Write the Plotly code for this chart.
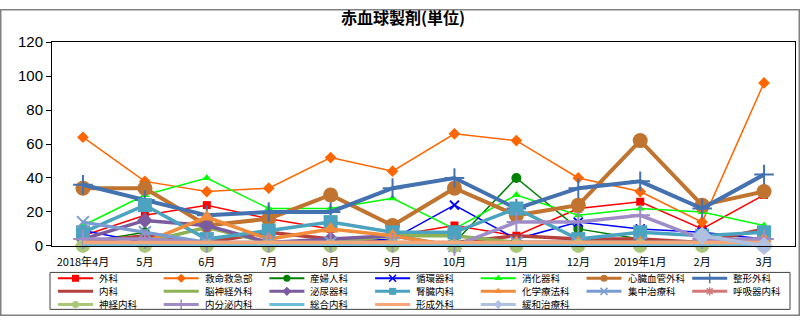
import plotly.graph_objects as go

months = ["2018年4月", "5月", "6月", "7月", "8月", "9月", "10月", "11月", "12月", "2019年1月", "2月", "3月"]

names = ["外科", "救命救急部", "産婦人科", "循環器科", "消化器科", "心臓血管外科", "整形外科",
         "内科", "脳神経外科", "泌尿器科", "腎臓内科", "化学療法科", "集中治療科", "呼吸器内科",
         "神経内科", "内分泌内科", "総合内科", "形成外科", "緩和治療科"]

geka       = [6, 18, 24, 16, 10, 6, 12, 6, 22, 26, 10, 30]
kyumei     = [64, 38, 32, 34, 52, 44, 66, 62, 40, 32, 14, 96]
sanfu      = [2, 8, 2, 2, 2, 2, 2, 40, 10, 4, 2, 2]
junkan     = [9, 2, 2, 2, 2, 4, 24, 4, 14, 10, 8, 4]
shoka      = [12, 30, 40, 22, 22, 28, 10, 30, 18, 22, 20, 12]
shinzo     = [34, 34, 12, 16, 30, 12, 34, 18, 24, 62, 24, 32]
seikei     = [36, 27, 18, 20, 20, 34, 40, 22, 34, 38, 22, 42]
naika      = [2, 6, 2, 8, 4, 2, 2, 6, 4, 4, 2, 10]
noshinkei  = [0, 2, 11, 2, 2, 6, 6, 2, 2, 2, 2, 2]
hinyoki    = [4, 15, 12, 2, 4, 6, 0, 2, 2, 2, 2, 4]
jinzo      = [8, 24, 4, 9, 14, 8, 8, 22, 4, 8, 6, 8]
kagaku     = [2, 2, 17, 4, 10, 6, 0, 2, 2, 2, 2, 4]
shuchu     = [14, 8, 2, 2, 2, 2, 0, 2, 2, 2, 2, 2]
kokyuki    = [0, 0, 0, 0, 0, 0, 0, 0, 0, 0, 0, 0]
shinkei    = [0, 0, 0, 0, 0, 0, 0, 0, 0, 0, 0, 0]
naibunpi   = [4, 4, 2, 2, 2, 2, 0, 14, 14, 18, 4, 4]
sogo       = [1, 1, 1, 1, 1, 1, 1, 1, 1, 1, 1, 1]
keisei     = [2, 2, 2, 2, 2, 2, 2, 2, 2, 2, 2, 2]
kanwa      = [None, None, None, None, None, None, None, None, None, None, 6, 0]

series = [geka, kyumei, sanfu, junkan, shoka, shinzo, seikei, naika, noshinkei, hinyoki,
          jinzo, kagaku, shuchu, kokyuki, shinkei, naibunpi, sogo, keisei, kanwa]

colors = ["#FF0000", "#FF6600", "#008000", "#0000FF", "#00FF00", "#C0742F", "#4472B0",
          "#B5403C", "#8DB255", "#7A5C9E", "#4BA3BF", "#F08C3C", "#7B9CD0", "#D4797A",
          "#A8C878", "#9F8CC6", "#6CBCD9", "#F8A878", "#B0C0E0"]
symbols = ["square", "diamond", "circle", "x-thin-open", "triangle-up", "circle", "cross-thin-open",
           None, None, "diamond", "square", "triangle-up", "x-thin-open", "asterisk-open",
           "circle", "cross-thin-open", None, None, "diamond"]
msizes = [8, 9, 10, 9, 8, 15, 14, 0, 0, 12, 14, 14, 12, 10, 14, 14, 0, 0, 14]
lwidths = [1.5, 1.5, 1.5, 1.5, 1.5, 4, 4, 3.5, 3.5, 3.5, 3.5, 3.5, 3.5, 3.5, 3.5, 3.5, 3.5, 3.5, 3.5]

JP = "Noto Sans CJK JP"
W, H = 800, 324
# plot area in pixels
PL, PR, PT, PB = 52, 795, 35, 250
# legend layout in pixels
LEG_X0, LEG_DX, LEG_LINE, LEG_TXT = 58, 105.7, 35, 40
LEG_ROWS = [284.2, 298.0, 311.8]
LEG_FONT = 9.5
LEG_BOX = (50, 790, 278, 317)

fig = go.Figure()

for i, (nm, vals) in enumerate(zip(names, series)):
    sym = symbols[i]
    mode = "lines+markers" if sym else "lines"
    mk = dict(color=colors[i])
    if sym:
        thin = ("thin" in sym) or ("asterisk" in sym)
        mk.update(symbol=sym, size=msizes[i], line=dict(color=colors[i], width=2 if thin else 0))
    fig.add_trace(go.Scatter(x=months, y=vals, name=nm, mode=mode,
                             line=dict(color=colors[i], width=lwidths[i]),
                             marker=mk, showlegend=False, cliponaxis=False,
                             xaxis="x", yaxis="y"))

# hand-made legend on an overlay pixel-space axis pair
annotations = []
for i, nm in enumerate(names):
    col, row = i % 7, i // 7
    x0 = LEG_X0 + col * LEG_DX
    yr = LEG_ROWS[row]
    sym = symbols[i]
    lw = 2 if lwidths[i] < 2 else 3
    fig.add_trace(go.Scatter(x=[x0, x0 + LEG_LINE], y=[yr, yr], mode="lines",
                             line=dict(color=colors[i], width=lw), showlegend=False,
                             hoverinfo="skip", xaxis="x2", yaxis="y2"))
    if sym:
        thin = ("thin" in sym) or ("asterisk" in sym)
        fig.add_trace(go.Scatter(x=[x0 + LEG_LINE / 2], y=[yr], mode="markers",
                                 marker=dict(symbol=sym, size=7, color=colors[i],
                                             line=dict(color=colors[i], width=1.5 if thin else 0)),
                                 showlegend=False, hoverinfo="skip", xaxis="x2", yaxis="y2"))
    annotations.append(dict(x=x0 + LEG_TXT, y=yr, xref="x2", yref="y2", text=nm,
                            showarrow=False, xanchor="left", yanchor="middle", borderpad=0,
                            font=dict(family=JP, size=LEG_FONT, color="#000000")))

fig.update_layout(
    width=W, height=H,
    margin=dict(l=0, r=0, t=0, b=0, pad=0),
    paper_bgcolor="white", plot_bgcolor="rgba(0,0,0,0)",
    showlegend=False,
    title=dict(text="<b>赤血球製剤(単位)</b>", x=403 / W, xref="container", xanchor="center",
               y=1 - 18 / H, yref="container", yanchor="middle",
               font=dict(family=JP, size=16, color="#000000")),
    xaxis=dict(domain=[PL / W, PR / W], anchor="y", type="category", range=[-0.5, 11.5],
               showgrid=False, showline=True, linecolor="#000000", linewidth=1, mirror=True,
               ticks="", ticklabelstandoff=6,
               tickfont=dict(family=JP, size=11, color="#000000"), fixedrange=True),
    yaxis=dict(domain=[1 - PB / H, 1 - PT / H], anchor="x", range=[0, 120], dtick=20,
               showgrid=False, showline=True, linecolor="#000000", linewidth=1, mirror=True,
               ticks="outside", ticklen=5, tickcolor="#000000", zeroline=False,
               tickfont=dict(family="Liberation Sans", size=15, color="#000000")),
    xaxis2=dict(domain=[0, 1], anchor="y2", range=[0, W], visible=False, fixedrange=True),
    yaxis2=dict(domain=[0, 1], anchor="x2", range=[H, 0], visible=False, fixedrange=True),
    annotations=annotations,
    shapes=[
        dict(type="rect", xref="x2", yref="y2", x0=LEG_BOX[0], x1=LEG_BOX[1],
             y0=LEG_BOX[2], y1=LEG_BOX[3], line=dict(color="#404040", width=1)),
        dict(type="rect", xref="x2", yref="y2", x0=0.75, x1=W - 0.75,
             y0=0.75, y1=H - 0.75, line=dict(color="#808080", width=1.5)),
    ],
)

fig.write_html("out.html")
